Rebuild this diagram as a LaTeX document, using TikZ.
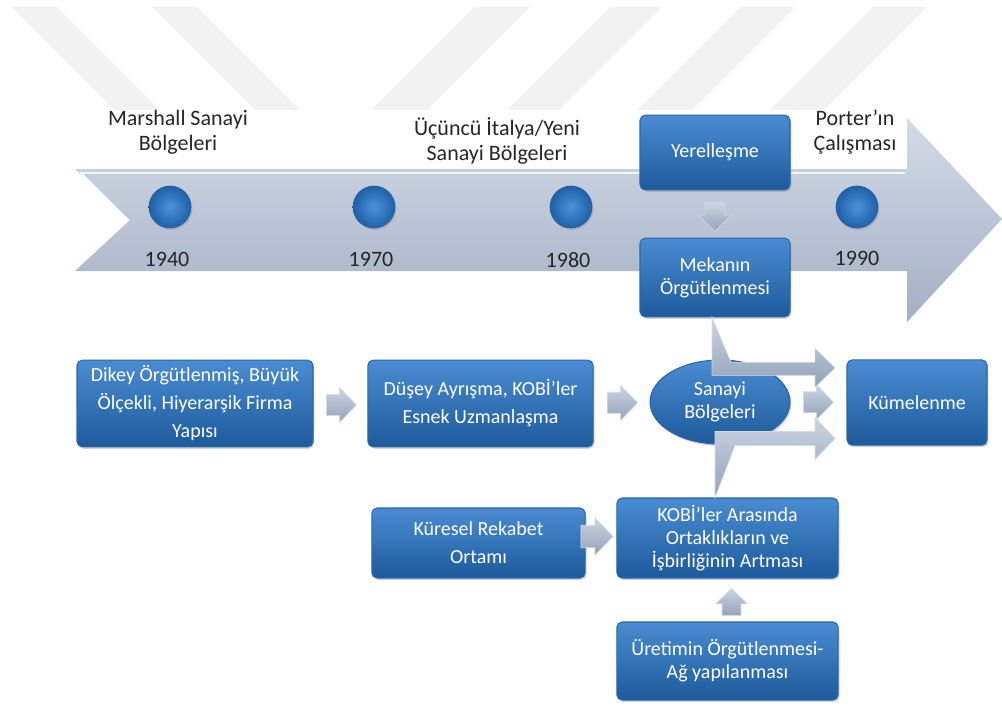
\documentclass[tikz,border=0pt]{standalone}
\usepackage{fontspec}
\setmainfont{Carlito}
\usetikzlibrary{shapes.geometric,shadows,calc,positioning}
\definecolor{boxtop}{HTML}{4A8CD2}
\definecolor{boxbot}{HTML}{1D5A9B}
\definecolor{boxedge}{HTML}{2A67A8}
\definecolor{arrtop}{HTML}{CBD4E1}
\definecolor{arrbot}{HTML}{93A3BA}
\definecolor{tltop}{HTML}{D3DBE7}
\definecolor{tlbot}{HTML}{A3AFC3}
\definecolor{wmgray}{HTML}{F2F2F2}
\definecolor{ballin}{HTML}{4A93DA}
\definecolor{ballout}{HTML}{1F5FA6}
\tikzset{
  box/.style = {draw=boxedge, line width=0.8pt, rounded corners=4pt, top color=boxtop, bottom color=boxbot,
    text=white, align=center, inner sep=2pt, font=\fontsize{15}{17.5}\selectfont,
    drop shadow={shadow xshift=1pt, shadow yshift=-1.5pt, opacity=0.35}},
  loose/.style = {font=\fontsize{15}{21}\selectfont},
  blob/.style = {box, ellipse, sharp corners},
  bentarrow/.style = {top color=arrtop, bottom color=arrbot, draw=white!60!arrbot, line width=0.5pt},
  ball/.style = {circle, minimum size=32pt, inner sep=0pt, inner color=ballin, outer color=ballout,
    drop shadow={shadow xshift=0.8pt, shadow yshift=-1.2pt, opacity=0.3}},
  year/.style = {font=\fontsize{16.5}{19}\selectfont, text=black!85},
  lbl/.style = {align=center, font=\fontsize{16.5}{19}\selectfont, text=black!85}
}
% block arrow: centre, rotation, scale
\newcommand{\flowarr}[3]{%
  \path[bentarrow, shift={#1}, rotate=#2, scale=#3]
    (-15,-10.5) -- (-2,-10.5) -- (-2,-17.5) -- (15,0) -- (-2,17.5) -- (-2,10.5) -- (-15,10.5) -- cycle;}
\begin{document}
\begin{tikzpicture}[x=0.75pt,y=-0.75pt]
\useasboundingbox (0,0) rectangle (1002,707);
% watermark
\begin{scope}
  \clip (0,7) rectangle (1002,110);
  \fill[wmgray] (12,7) -- (57,7) -- (160,110) -- (115,110) -- cycle;
  \fill[wmgray] (152,7) -- (197,7) -- (300,110) -- (255,110) -- cycle;
  \fill[wmgray] (474,7) -- (530,7) -- (427,110) -- (371,110) -- cycle;
  \fill[wmgray] (610,7) -- (662,7) -- (559,110) -- (507,110) -- cycle;
  \fill[wmgray] (740,7) -- (795,7) -- (692,110) -- (637,110) -- cycle;
  \fill[wmgray] (873,7) -- (927,7) -- (824,110) -- (770,110) -- cycle;
\end{scope}

% timeline
\path[top color=tltop, bottom color=tlbot] (75,169) -- (907,169) -- (907,118) -- (1002,219)
  -- (907,322) -- (907,271) -- (75,271) -- (130,220) -- cycle;
\draw[white!70!tltop, line width=1pt] (80,173) -- (905,173);
\draw[white, line width=1.2pt] (82,174) -- (126,218);

\node[ball] (b40) at (170,207) {};
\node[ball] (b70) at (374,207) {};
\node[ball] (b80) at (571,207) {};
\node[ball] (b90) at (857,207) {};

\node[year] (y40) at ($(b40)+(-3,52)$) {1940};
\node[year] (y70) at ($(b70)+(-3,52)$) {1970};
\node[year] (y80) at ($(b80)+(-3,53)$) {1980};
\node[year] (y90) at ($(b90)+(0,51)$) {1990};

\node[lbl] (marshall) at (178,132) {Marshall Sanayi\\Bölgeleri};
\node[lbl] (italya) at (497,141) {Üçüncü İtalya/Yeni\\Sanayi Bölgeleri};
\node[lbl] (porter) at (855,132) {Porter’ın\\Çalışması};

% boxes
\node[box, minimum width=112.5pt, minimum height=56pt] (yerel) at (715,152.5) {Yerelleşme};
\node[box, minimum width=112.5pt, minimum height=59pt] (mekan) at (715,277.5) {Mekanın\\Örgütlenmesi};
\node[box, loose, minimum width=177pt, minimum height=65pt] (dikey) at (195,403.5)
  {Dikey Örgütlenmiş, Büyük\\Ölçekli, Hiyerarşik Firma\\Yapısı};
\node[box, loose, minimum width=169pt, minimum height=65pt] (dusey) at (480.5,403.5)
  {Düşey Ayrışma, KOBİ’ler\\Esnek Uzmanlaşma};
\node[blob, minimum width=105pt, minimum height=63pt] (sanayi) at (720,402) {Sanayi\\Bölgeleri};
\node[box, minimum width=105pt, minimum height=64pt] (kume) at (917,402.5) {Kümelenme};
\node[box, loose, minimum width=160pt, minimum height=52.5pt] (kuresel) at (478.5,543) {Küresel Rekabet\\Ortamı};
\node[box, minimum width=166pt, minimum height=60pt] (kobi) at (727.5,538)
  {KOBİ’ler Arasında\\Ortaklıkların ve\\İşbirliğinin Artması};
\node[box, minimum width=166pt, minimum height=58.5pt] (uretim) at (727.5,661)
  {Üretimin Örgütlenmesi-\\Ağ yapılanması};

% arrows
\flowarr{($(dikey.east)!0.5!(dusey.west)+(1,1.5)$)}{0}{1}
\flowarr{($(dusey.east)!0.5!(sanayi.west)+(1,0)$)}{0}{1}
\flowarr{($(sanayi.east)!0.5!(kume.west)$)}{0}{1}
\flowarr{($(kuresel.east)!0.5!(kobi.west)+(-4,-4)$)}{0}{1.07}
\flowarr{($(uretim.north)!0.5!(kobi.south)+(4,2)$)}{90}{0.9}
\flowarr{($(yerel.south)!0.5!(mekan.north)+(0,3)$)}{-90}{0.95}

\path[bentarrow] ($(mekan.south)+(-3,0)$) -- ++(0,58) -- ++(103,0) -- ++(0,12) -- ++(20,-19.5)
  -- ++(-20,-19.5) -- ++(0,14) -- ++(-84,0) -- cycle;
\path[bentarrow] ($(kobi.north)+(-12.5,0)$) -- ++(0,-66) -- ++(100,0) -- ++(0,-14) -- ++(20,21)
  -- ++(-20,21) -- ++(0,-14) -- ++(-80,0) -- cycle;
\end{tikzpicture}
\end{document}
